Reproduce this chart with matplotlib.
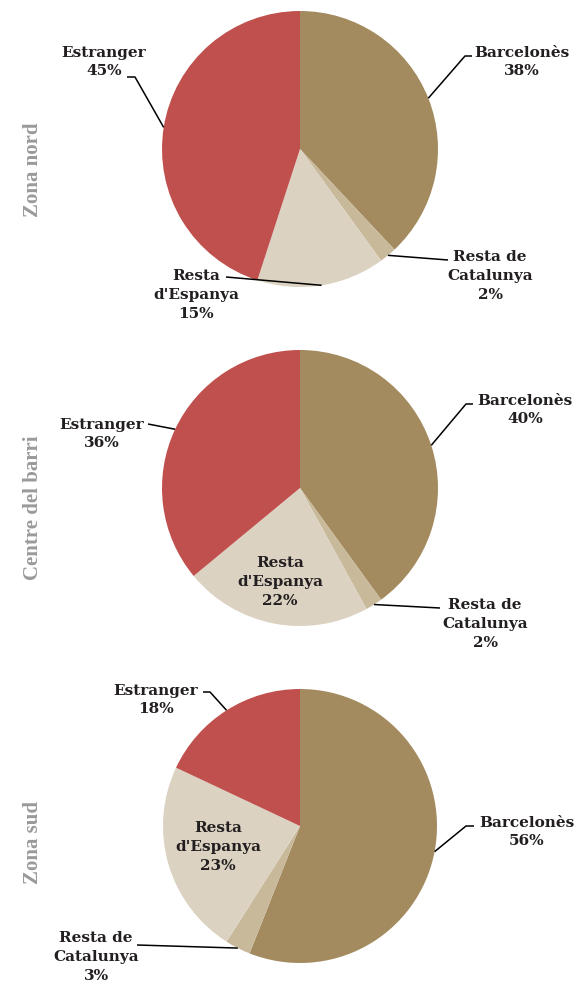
import numpy as np
import matplotlib.pyplot as plt

# data
categories = ['Barcelonès', 'Resta de\nCatalunya', "Resta\nd'Espanya", 'Estranger']
zones = ['Zona nord', 'Centre del barri', 'Zona sud']
zona_nord = [38, 2, 15, 45]
centre_barri = [40, 2, 22, 36]
zona_sud = [56, 3, 23, 18]
colors = ['#a38b5f', '#c9b99b', '#dbd2c1', '#c0504d']

W, H = 583, 987


def Y(y):
    # pixel row (from top) -> data y
    return H - y


# layout in pixels from the top-left corner
# each label: text centre, and leader path (from wedge edge) or None when inside
layout = [
    dict(center=(300, 150), r=138, side_y=170, labels=[
        dict(text=(522, 62), path=[(465, 57), (472, 57)]),
        dict(text=(490, 276), path=[(448, 261)]),
        dict(text=(196, 295), path=[(226, 278)]),
        dict(text=(104, 62), path=[(135, 78), (127, 78)]),
    ]),
    dict(center=(300, 489), r=138, side_y=508, labels=[
        dict(text=(525, 410), path=[(466, 405), (473, 405)]),
        dict(text=(485, 624), path=[(440, 609)]),
        dict(text=(280, 582), path=None),
        dict(text=(102, 434), path=[(148, 425)]),
    ]),
    dict(center=(300, 827), r=137, side_y=843, labels=[
        dict(text=(527, 832), path=[(466, 827), (474, 827)]),
        dict(text=(96, 957), path=[(137, 946)]),
        dict(text=(218, 847), path=None),
        dict(text=(156, 700), path=[(210, 693), (203, 693)]),
    ]),
]

fig = plt.figure(figsize=(W / 100, H / 100), dpi=100)
ax = fig.add_axes([0, 0, 1, 1])

for zone, values, lay in zip(zones, [zona_nord, centre_barri, zona_sud], layout):
    cx, cy = lay['center']
    r = lay['r']
    wedges, _ = ax.pie(values, colors=colors, startangle=90, counterclock=False,
                       center=(cx, Y(cy)), radius=r, wedgeprops=dict(linewidth=0))

    for w, cat, v, lab in zip(wedges, categories, values, lay['labels']):
        tx, ty = lab['text']
        ax.text(tx, Y(ty), f'{cat}\n{v}%', ha='center', va='center',
                fontfamily='DejaVu Serif', fontweight='bold', fontsize=11,
                color='#231f20', linespacing=1.45)
        if lab['path'] is None:
            continue
        mid = np.deg2rad((w.theta1 + w.theta2) / 2)
        xs = [cx + r * np.cos(mid)] + [p[0] for p in lab['path']]
        ys = [Y(cy) + r * np.sin(mid)] + [Y(p[1]) for p in lab['path']]
        ax.plot(xs, ys, color='black', lw=1.1, solid_capstyle='butt')

    ax.text(33, Y(lay['side_y']), zone, rotation=90, ha='center', va='center',
            fontfamily='Liberation Serif', fontweight='bold', fontsize=15,
            color='#9a9a9a')

ax.set_xlim(0, W)
ax.set_ylim(0, H)
ax.set_aspect('equal')
ax.axis('off')

fig.savefig('out.png', dpi=100)
